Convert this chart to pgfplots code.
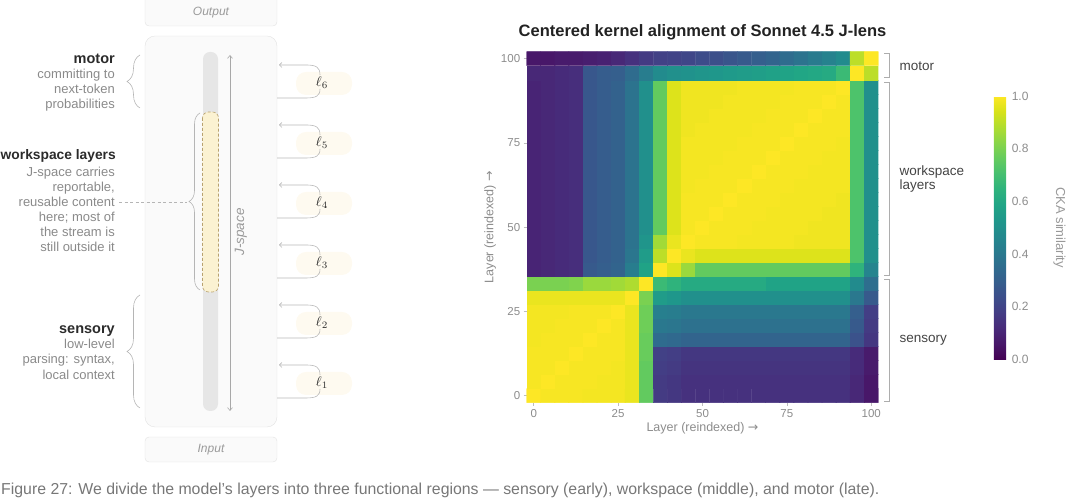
\documentclass[border=0pt]{standalone}
\usepackage{fontspec}
\setmainfont{Liberation Sans}
\newfontfamily\dejavu{DejaVu Sans}
\usepackage{pgfplots}
\pgfplotsset{compat=1.18}
\usetikzlibrary{decorations.pathreplacing,arrows.meta}
\newcommand{\fs}[1]{\fontsize{#1}{#1}\selectfont}
\definecolor{tickgray}{HTML}{8C8C8C}
\definecolor{tickline}{HTML}{BDBDBD}
\definecolor{cbgray}{HTML}{999999}
\definecolor{titlecol}{HTML}{222222}
\definecolor{darktext}{HTML}{2B2B2B}
\definecolor{midgray}{HTML}{8A8A8A}
\definecolor{boxborder}{HTML}{E2E2E2}
\definecolor{boxfill}{HTML}{FAFAFA}
\definecolor{streamgray}{HTML}{E6E6E6}
\definecolor{paleyellow}{HTML}{FBF2D2}
\definecolor{dashbrown}{HTML}{B8A26E}
\definecolor{jgray}{HTML}{A8A8A8}
\definecolor{loopgray}{HTML}{B8B8B8}
\definecolor{glow}{HTML}{FEFAF0}
\definecolor{bracegray}{HTML}{B5B5B5}
\definecolor{bracketgray}{HTML}{ADADAD}
\definecolor{labeldark}{HTML}{444444}
\definecolor{captiongray}{HTML}{777777}
\definecolor{lightital}{HTML}{9A9A9A}
\begin{document}
\begin{tikzpicture}
\useasboundingbox (0pt,0pt) rectangle (1080pt,502pt);
\begin{scope}[shift={(0pt,502pt)},x=1pt,y=-1pt]
% boxes
\draw[draw=boxborder, fill=boxfill, rounded corners=4pt] (145,-4) rectangle (277,26);
\node[font=\fs{12}\itshape, text=lightital] at (211,13) {Output};
\draw[draw=boxborder, fill=boxfill, rounded corners=10pt] (145,36) rectangle (277,427);
\draw[draw=boxborder, fill=boxfill, rounded corners=4pt] (145,437) rectangle (277,462);
\node[font=\fs{12}\itshape, text=lightital] at (211,449.5) {Input};
% stream
\fill[streamgray, rounded corners=7pt] (203,52) rectangle (218,411);
\draw[draw=dashbrown, fill=paleyellow, dash pattern=on 3pt off 2pt, rounded corners=6pt, line width=0.6pt] (202.5,112) rectangle (218.5,292);
\draw[jgray, line width=0.6pt, {Straight Barb[length=3pt,width=5pt]}-{Straight Barb[length=3pt,width=5pt]}] (230,55) -- (230,411);
\node[font=\fs{13.5}\itshape, text=lightital, rotate=90] at (241,232) {J-space};
% loops
\foreach \k/\T in {6/65,5/125,4/185,3/245,2/305,1/365} {
  \fill[glow, rounded corners=10pt] (296,\T+7) rectangle (352,\T+30);
  \draw[loopgray, line width=0.6pt, -{Straight Barb[length=2.5pt,width=5pt]}] (320,\T+10) .. controls (320,\T+2) and (316,\T) .. (306,\T) -- (279,\T);
  \draw[loopgray, line width=0.6pt] (320,\T+24) .. controls (320,\T+31) and (316,\T+33) .. (306,\T+33) -- (277,\T+33);
  \node[font=\fs{10}, scale=1.4, text=darktext] at (322,\T+18) {$\ell_{\k}$};
}
% braces
\draw[bracegray, line width=0.6pt, decorate, decoration={brace, amplitude=13pt}] (140,108) -- (140,55);
\draw[bracegray, line width=0.6pt, decorate, decoration={brace, amplitude=11pt}] (200,290) -- (200,113);
\draw[bracegray, line width=0.6pt, decorate, decoration={brace, amplitude=13pt}] (140,408) -- (140,295);
\draw[bracegray, line width=0.6pt, dash pattern=on 3pt off 2.5pt] (119,202) -- (187,202);
% left texts
\node[anchor=base east, inner sep=0, font=\fs{14.5}\bfseries, text=darktext] at (115,64) {motor};
\node[anchor=base east, inner sep=0, font=\fs{13}, text=midgray] at (115,78.5) {committing to};
\node[anchor=base east, inner sep=0, font=\fs{13}, text=midgray] at (115,93.5) {next-token};
\node[anchor=base east, inner sep=0, font=\fs{13}, text=midgray] at (115,108.5) {probabilities};
\node[anchor=base east, inner sep=0, font=\fs{13.8}\bfseries, text=darktext] at (116,160) {workspace layers};
\node[anchor=base east, inner sep=0, font=\fs{13}, text=midgray] at (115,176.5) {J-space carries};
\node[anchor=base east, inner sep=0, font=\fs{13}, text=midgray] at (115,191.5) {reportable,};
\node[anchor=base east, inner sep=0, font=\fs{13}, text=midgray] at (115,206.5) {reusable content};
\node[anchor=base east, inner sep=0, font=\fs{13}, text=midgray] at (115,221.5) {here; most of};
\node[anchor=base east, inner sep=0, font=\fs{13}, text=midgray] at (115,236.5) {the stream is};
\node[anchor=base east, inner sep=0, font=\fs{13}, text=midgray] at (115,251.5) {still outside it};
\node[anchor=base east, inner sep=0, font=\fs{14.5}\bfseries, text=darktext] at (115,334) {sensory};
\node[anchor=base east, inner sep=0, font=\fs{13}, text=midgray] at (115,348.5) {low-level};
\node[anchor=base east, inner sep=0, font=\fs{13}, text=midgray] at (115,363.5) {parsing: syntax,};
\node[anchor=base east, inner sep=0, font=\fs{13}, text=midgray] at (115,379.5) {local context};
% title
\node[font=\fs{16.5}\bfseries, text=titlecol] at (702.5,32) {Centered kernel alignment of Sonnet 4.5 J-lens};
% brackets right of heatmap
\draw[bracketgray, line width=0.8pt] (884,53) -- (889,53) -- (889,77) -- (884,77);
\draw[bracketgray, line width=0.8pt] (884,82) -- (889,82) -- (889,275) -- (884,275);
\draw[bracketgray, line width=0.8pt] (884,279) -- (889,279) -- (889,401) -- (884,401);
\node[anchor=west, font=\fs{13.5}, text=labeldark] at (896,66) {motor};
\node[anchor=west, align=left, font=\fontsize{13.5}{14}\selectfont, text=labeldark] at (896,179) {workspace\\layers};
\node[anchor=west, font=\fs{13.5}, text=labeldark] at (896,340) {sensory};
% caption
\node[anchor=base west, inner sep=0, font=\fs{15.85}, text=captiongray] at (1,495) {Figure 27: We divide the model's layers into three functional regions — sensory (early), workspace (middle), and motor (late).};
\end{scope}
\begin{axis}[
  at={(526.7pt,99.3pt)}, anchor=south west,
  scale only axis, width=351.6pt, height=351pt,
  xmin=-0.5, xmax=24.5, ymin=-0.5, ymax=24.5,
  enlargelimits=false,
  axis line style={draw=none},
  tick pos=left, tick align=outside,
  major tick length=3pt,
  tick style={draw=tickline, line width=0.5pt},
  xtick={0,6,12,18,24}, xticklabels={0,25,50,75,100},
  ytick={0,6,12,18,24}, yticklabels={0,25,50,75,100},
  ticklabel style={font=\fs{11.5}, text=tickgray},
  xlabel={Layer (reindexed) {\dejavu →}},
  ylabel={Layer (reindexed) {\dejavu →}},
  label style={font=\fs{12.5}, text=tickgray},
  xlabel style={at={(axis description cs:0.5,-0.072)}, anchor=center},
  ylabel style={at={(axis description cs:-0.104,0.5)}, anchor=center},
  colormap/viridis,
  point meta min=0, point meta max=1,
  /pgf/number format/assume math mode=true,
  colorbar,
  colorbar style={
    at={(parent axis.south east)}, anchor=south west,
    xshift=107pt, yshift=43.4pt,
    scale only axis, width=12.4pt, height=263.3pt,
    axis line style={draw=none},
    major tick length=0pt,
    ytick={0,0.2,0.4,0.6,0.8,1},
    yticklabel style={font=\fs{12}, text=tickgray, xshift=2pt, /pgf/number format/.cd, fixed, fixed zerofill, precision=1, assume math mode=true},
    ylabel={CKA similarity},
    ylabel style={font=\fs{13}, text=cbgray, rotate=180, at={(axis description cs:5.3,0.5)}, anchor=center},
  },
]
\addplot[matrix plot*, mesh/cols=25, point meta=explicit] coordinates {
(0,0)[1] (1,0)[0.99] (2,0)[0.99] (3,0)[0.99] (4,0)[0.985] (5,0)[0.985] (6,0)[0.985] (7,0)[0.97] (8,0)[0.76] (9,0)[0.17] (10,0)[0.16] (11,0)[0.14] (12,0)[0.14] (13,0)[0.14] (14,0)[0.14] (15,0)[0.14] (16,0)[0.14] (17,0)[0.14] (18,0)[0.14] (19,0)[0.14] (20,0)[0.14] (21,0)[0.14] (22,0)[0.14] (23,0)[0.11] (24,0)[0.06]
(0,1)[0.99] (1,1)[1] (2,1)[0.99] (3,1)[0.99] (4,1)[0.99] (5,1)[0.985] (6,1)[0.985] (7,1)[0.97] (8,1)[0.76] (9,1)[0.17] (10,1)[0.16] (11,1)[0.14] (12,1)[0.14] (13,1)[0.14] (14,1)[0.14] (15,1)[0.14] (16,1)[0.14] (17,1)[0.14] (18,1)[0.14] (19,1)[0.14] (20,1)[0.14] (21,1)[0.14] (22,1)[0.14] (23,1)[0.11] (24,1)[0.06]
(0,2)[0.99] (1,2)[0.99] (2,2)[1] (3,2)[0.99] (4,2)[0.99] (5,2)[0.99] (6,2)[0.985] (7,2)[0.97] (8,2)[0.76] (9,2)[0.18] (10,2)[0.17] (11,2)[0.15] (12,2)[0.15] (13,2)[0.15] (14,2)[0.15] (15,2)[0.15] (16,2)[0.15] (17,2)[0.15] (18,2)[0.15] (19,2)[0.15] (20,2)[0.15] (21,2)[0.15] (22,2)[0.15] (23,2)[0.12] (24,2)[0.07]
(0,3)[0.99] (1,3)[0.99] (2,3)[0.99] (3,3)[1] (4,3)[0.99] (5,3)[0.99] (6,3)[0.99] (7,3)[0.97] (8,3)[0.77] (9,3)[0.19] (10,3)[0.18] (11,3)[0.16] (12,3)[0.16] (13,3)[0.16] (14,3)[0.16] (15,3)[0.16] (16,3)[0.16] (17,3)[0.16] (18,3)[0.16] (19,3)[0.16] (20,3)[0.16] (21,3)[0.16] (22,3)[0.16] (23,3)[0.12] (24,3)[0.07]
(0,4)[0.985] (1,4)[0.99] (2,4)[0.99] (3,4)[0.99] (4,4)[1] (5,4)[0.99] (6,4)[0.99] (7,4)[0.97] (8,4)[0.77] (9,4)[0.35] (10,4)[0.34] (11,4)[0.32] (12,4)[0.32] (13,4)[0.32] (14,4)[0.32] (15,4)[0.32] (16,4)[0.32] (17,4)[0.32] (18,4)[0.32] (19,4)[0.32] (20,4)[0.32] (21,4)[0.32] (22,4)[0.32] (23,4)[0.25] (24,4)[0.16]
(0,5)[0.985] (1,5)[0.985] (2,5)[0.99] (3,5)[0.99] (4,5)[0.99] (5,5)[1] (6,5)[0.99] (7,5)[0.97] (8,5)[0.78] (9,5)[0.40] (10,5)[0.39] (11,5)[0.37] (12,5)[0.37] (13,5)[0.37] (14,5)[0.37] (15,5)[0.37] (16,5)[0.37] (17,5)[0.37] (18,5)[0.37] (19,5)[0.37] (20,5)[0.37] (21,5)[0.37] (22,5)[0.37] (23,5)[0.28] (24,5)[0.17]
(0,6)[0.985] (1,6)[0.985] (2,6)[0.985] (3,6)[0.99] (4,6)[0.99] (5,6)[0.99] (6,6)[1] (7,6)[0.97] (8,6)[0.78] (9,6)[0.43] (10,6)[0.42] (11,6)[0.40] (12,6)[0.40] (13,6)[0.40] (14,6)[0.40] (15,6)[0.40] (16,6)[0.40] (17,6)[0.40] (18,6)[0.40] (19,6)[0.40] (20,6)[0.40] (21,6)[0.40] (22,6)[0.40] (23,6)[0.30] (24,6)[0.18]
(0,7)[0.97] (1,7)[0.97] (2,7)[0.97] (3,7)[0.97] (4,7)[0.97] (5,7)[0.97] (6,7)[0.97] (7,7)[1] (8,7)[0.80] (9,7)[0.55] (10,7)[0.53] (11,7)[0.50] (12,7)[0.50] (13,7)[0.50] (14,7)[0.50] (15,7)[0.50] (16,7)[0.50] (17,7)[0.50] (18,7)[0.50] (19,7)[0.50] (20,7)[0.50] (21,7)[0.50] (22,7)[0.50] (23,7)[0.40] (24,7)[0.28]
(0,8)[0.80] (1,8)[0.80] (2,8)[0.80] (3,8)[0.81] (4,8)[0.85] (5,8)[0.85] (6,8)[0.86] (7,8)[0.88] (8,8)[1] (9,8)[0.68] (10,8)[0.65] (11,8)[0.61] (12,8)[0.61] (13,8)[0.61] (14,8)[0.61] (15,8)[0.61] (16,8)[0.61] (17,8)[0.58] (18,8)[0.58] (19,8)[0.58] (20,8)[0.58] (21,8)[0.58] (22,8)[0.58] (23,8)[0.48] (24,8)[0.36]
(0,9)[0.10] (1,9)[0.11] (2,9)[0.12] (3,9)[0.13] (4,9)[0.28] (5,9)[0.30] (6,9)[0.32] (7,9)[0.42] (8,9)[0.58] (9,9)[1] (10,9)[0.95] (11,9)[0.85] (12,9)[0.76] (13,9)[0.76] (14,9)[0.76] (15,9)[0.76] (16,9)[0.76] (17,9)[0.76] (18,9)[0.76] (19,9)[0.76] (20,9)[0.76] (21,9)[0.76] (22,9)[0.76] (23,9)[0.65] (24,9)[0.45]
(0,10)[0.10] (1,10)[0.11] (2,10)[0.12] (3,10)[0.13] (4,10)[0.27] (5,10)[0.29] (6,10)[0.31] (7,10)[0.39] (8,10)[0.55] (9,10)[0.90] (10,10)[1] (11,10)[0.97] (12,10)[0.95] (13,10)[0.95] (14,10)[0.95] (15,10)[0.95] (16,10)[0.95] (17,10)[0.95] (18,10)[0.95] (19,10)[0.95] (20,10)[0.95] (21,10)[0.95] (22,10)[0.95] (23,10)[0.72] (24,10)[0.50]
(0,11)[0.10] (1,11)[0.11] (2,11)[0.12] (3,11)[0.13] (4,11)[0.27] (5,11)[0.29] (6,11)[0.31] (7,11)[0.38] (8,11)[0.52] (9,11)[0.86] (10,11)[0.97] (11,11)[1] (12,11)[0.99] (13,11)[0.99] (14,11)[0.99] (15,11)[0.985] (16,11)[0.985] (17,11)[0.985] (18,11)[0.985] (19,11)[0.98] (20,11)[0.98] (21,11)[0.98] (22,11)[0.98] (23,11)[0.72] (24,11)[0.50]
(0,12)[0.10] (1,12)[0.11] (2,12)[0.12] (3,12)[0.13] (4,12)[0.27] (5,12)[0.29] (6,12)[0.31] (7,12)[0.38] (8,12)[0.50] (9,12)[0.76] (10,12)[0.95] (11,12)[0.99] (12,12)[1] (13,12)[0.99] (14,12)[0.99] (15,12)[0.99] (16,12)[0.985] (17,12)[0.985] (18,12)[0.985] (19,12)[0.985] (20,12)[0.98] (21,12)[0.98] (22,12)[0.98] (23,12)[0.72] (24,12)[0.50]
(0,13)[0.10] (1,13)[0.11] (2,13)[0.12] (3,13)[0.13] (4,13)[0.27] (5,13)[0.29] (6,13)[0.31] (7,13)[0.38] (8,13)[0.50] (9,13)[0.76] (10,13)[0.95] (11,13)[0.99] (12,13)[0.99] (13,13)[1] (14,13)[0.99] (15,13)[0.99] (16,13)[0.99] (17,13)[0.985] (18,13)[0.985] (19,13)[0.985] (20,13)[0.985] (21,13)[0.98] (22,13)[0.98] (23,13)[0.72] (24,13)[0.50]
(0,14)[0.10] (1,14)[0.11] (2,14)[0.12] (3,14)[0.13] (4,14)[0.27] (5,14)[0.29] (6,14)[0.31] (7,14)[0.38] (8,14)[0.50] (9,14)[0.76] (10,14)[0.95] (11,14)[0.99] (12,14)[0.99] (13,14)[0.99] (14,14)[1] (15,14)[0.99] (16,14)[0.99] (17,14)[0.99] (18,14)[0.985] (19,14)[0.985] (20,14)[0.985] (21,14)[0.985] (22,14)[0.98] (23,14)[0.72] (24,14)[0.50]
(0,15)[0.10] (1,15)[0.11] (2,15)[0.12] (3,15)[0.13] (4,15)[0.27] (5,15)[0.29] (6,15)[0.31] (7,15)[0.38] (8,15)[0.50] (9,15)[0.76] (10,15)[0.95] (11,15)[0.985] (12,15)[0.99] (13,15)[0.99] (14,15)[0.99] (15,15)[1] (16,15)[0.99] (17,15)[0.99] (18,15)[0.99] (19,15)[0.985] (20,15)[0.985] (21,15)[0.985] (22,15)[0.985] (23,15)[0.72] (24,15)[0.50]
(0,16)[0.10] (1,16)[0.11] (2,16)[0.12] (3,16)[0.13] (4,16)[0.27] (5,16)[0.29] (6,16)[0.31] (7,16)[0.38] (8,16)[0.50] (9,16)[0.76] (10,16)[0.95] (11,16)[0.985] (12,16)[0.985] (13,16)[0.99] (14,16)[0.99] (15,16)[0.99] (16,16)[1] (17,16)[0.99] (18,16)[0.99] (19,16)[0.99] (20,16)[0.985] (21,16)[0.985] (22,16)[0.985] (23,16)[0.72] (24,16)[0.50]
(0,17)[0.10] (1,17)[0.11] (2,17)[0.12] (3,17)[0.13] (4,17)[0.27] (5,17)[0.29] (6,17)[0.31] (7,17)[0.38] (8,17)[0.50] (9,17)[0.76] (10,17)[0.95] (11,17)[0.985] (12,17)[0.985] (13,17)[0.985] (14,17)[0.99] (15,17)[0.99] (16,17)[0.99] (17,17)[1] (18,17)[0.99] (19,17)[0.99] (20,17)[0.99] (21,17)[0.985] (22,17)[0.985] (23,17)[0.72] (24,17)[0.50]
(0,18)[0.10] (1,18)[0.11] (2,18)[0.12] (3,18)[0.13] (4,18)[0.27] (5,18)[0.29] (6,18)[0.31] (7,18)[0.38] (8,18)[0.50] (9,18)[0.76] (10,18)[0.95] (11,18)[0.985] (12,18)[0.985] (13,18)[0.985] (14,18)[0.985] (15,18)[0.99] (16,18)[0.99] (17,18)[0.99] (18,18)[1] (19,18)[0.99] (20,18)[0.99] (21,18)[0.99] (22,18)[0.985] (23,18)[0.72] (24,18)[0.50]
(0,19)[0.10] (1,19)[0.11] (2,19)[0.12] (3,19)[0.13] (4,19)[0.27] (5,19)[0.29] (6,19)[0.31] (7,19)[0.38] (8,19)[0.50] (9,19)[0.76] (10,19)[0.95] (11,19)[0.98] (12,19)[0.985] (13,19)[0.985] (14,19)[0.985] (15,19)[0.985] (16,19)[0.99] (17,19)[0.99] (18,19)[0.99] (19,19)[1] (20,19)[0.99] (21,19)[0.99] (22,19)[0.99] (23,19)[0.72] (24,19)[0.50]
(0,20)[0.10] (1,20)[0.11] (2,20)[0.12] (3,20)[0.13] (4,20)[0.27] (5,20)[0.29] (6,20)[0.31] (7,20)[0.38] (8,20)[0.50] (9,20)[0.76] (10,20)[0.95] (11,20)[0.98] (12,20)[0.98] (13,20)[0.985] (14,20)[0.985] (15,20)[0.985] (16,20)[0.985] (17,20)[0.99] (18,20)[0.99] (19,20)[0.99] (20,20)[1] (21,20)[0.99] (22,20)[0.99] (23,20)[0.72] (24,20)[0.50]
(0,21)[0.10] (1,21)[0.11] (2,21)[0.12] (3,21)[0.13] (4,21)[0.27] (5,21)[0.29] (6,21)[0.31] (7,21)[0.38] (8,21)[0.50] (9,21)[0.76] (10,21)[0.95] (11,21)[0.98] (12,21)[0.98] (13,21)[0.98] (14,21)[0.985] (15,21)[0.985] (16,21)[0.985] (17,21)[0.985] (18,21)[0.99] (19,21)[0.99] (20,21)[0.99] (21,21)[1] (22,21)[0.99] (23,21)[0.72] (24,21)[0.50]
(0,22)[0.10] (1,22)[0.11] (2,22)[0.12] (3,22)[0.13] (4,22)[0.27] (5,22)[0.29] (6,22)[0.31] (7,22)[0.38] (8,22)[0.50] (9,22)[0.76] (10,22)[0.95] (11,22)[0.98] (12,22)[0.98] (13,22)[0.98] (14,22)[0.98] (15,22)[0.985] (16,22)[0.985] (17,22)[0.985] (18,22)[0.985] (19,22)[0.99] (20,22)[0.99] (21,22)[0.99] (22,22)[1] (23,22)[0.72] (24,22)[0.50]
(0,23)[0.11] (1,23)[0.11] (2,23)[0.12] (3,23)[0.13] (4,23)[0.27] (5,23)[0.29] (6,23)[0.30] (7,23)[0.35] (8,23)[0.42] (9,23)[0.48] (10,23)[0.50] (11,23)[0.51] (12,23)[0.52] (13,23)[0.53] (14,23)[0.54] (15,23)[0.55] (16,23)[0.56] (17,23)[0.57] (18,23)[0.58] (19,23)[0.59] (20,23)[0.60] (21,23)[0.61] (22,23)[0.68] (23,23)[1] (24,23)[0.90]
(0,24)[0.06] (1,24)[0.06] (2,24)[0.07] (3,24)[0.07] (4,24)[0.08] (5,24)[0.09] (6,24)[0.11] (7,24)[0.14] (8,24)[0.17] (9,24)[0.19] (10,24)[0.20] (11,24)[0.21] (12,24)[0.23] (13,24)[0.24] (14,24)[0.26] (15,24)[0.28] (16,24)[0.30] (17,24)[0.32] (18,24)[0.35] (19,24)[0.38] (20,24)[0.41] (21,24)[0.44] (22,24)[0.48] (23,24)[0.90] (24,24)[1]
};
\end{axis}
\end{tikzpicture}
\end{document}
